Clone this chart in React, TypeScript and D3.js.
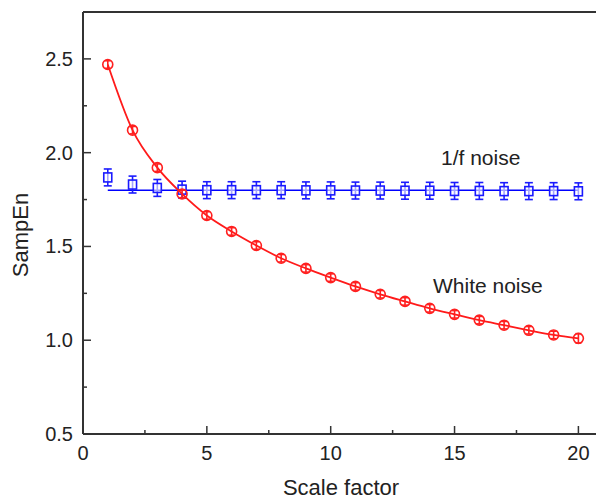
import * as d3 from 'd3';

const scales = [1, 2, 3, 4, 5, 6, 7, 8, 9, 10, 11, 12, 13, 14, 15, 16, 17, 18, 19, 20];
const whiteNoise = [2.47, 2.12, 1.92, 1.78, 1.665, 1.58, 1.505, 1.437, 1.383, 1.334, 1.287, 1.245, 1.207, 1.17, 1.138, 1.107, 1.08, 1.053, 1.028, 1.01];
const whiteErr = [0.02, 0.02, 0.02, 0.02, 0.02, 0.02, 0.02, 0.02, 0.02, 0.02, 0.02, 0.02, 0.02, 0.02, 0.02, 0.02, 0.02, 0.02, 0.02, 0.025];
const pinkNoise = [1.868, 1.83, 1.812, 1.803, 1.8, 1.8, 1.8, 1.8, 1.799, 1.799, 1.798, 1.798, 1.797, 1.797, 1.796, 1.796, 1.795, 1.795, 1.795, 1.794];
const pinkErr = [0.045, 0.045, 0.045, 0.045, 0.045, 0.045, 0.045, 0.045, 0.045, 0.045, 0.045, 0.045, 0.045, 0.045, 0.045, 0.045, 0.045, 0.045, 0.045, 0.045];
const pinkFit = 1.8;
const xTicks = [0, 5, 10, 15, 20];
const xMinor = [2.5, 7.5, 12.5, 17.5];
const yTicks = [0.5, 1.0, 1.5, 2.0, 2.5];
const yMinor = [0.75, 1.25, 1.75, 2.25];

const W = 596;
const H = 499;
const left = 83;
const top = 12;
const bottom = 434;
const font = 'Liberation Sans, Arial, sans-serif';
const axisColor = '#333';
const textColor = '#222';

export default function App() {
  const x = d3.scaleLinear().domain([0, 21]).range([left, left + 21 * 24.77]);
  const y = d3.scaleLinear().domain([0.5, 2.75]).range([bottom, top]);
  const right = x(21);

  const curve = d3
    .line<number>()
    .x((_, i) => x(scales[i]))
    .y((v) => y(v))
    .curve(d3.curveMonotoneX);

  return (
    <svg width={W} height={H} style={{ position: 'absolute', left: 0, top: 0 }}>
      <rect width={W} height={H} fill="#fff" />

      {/* frame, right side runs past the picture edge */}
      <line x1={left} x2={right} y1={top} y2={top} stroke={axisColor} strokeWidth={2} />
      <line x1={left} x2={left} y1={top} y2={bottom} stroke={axisColor} strokeWidth={2} />
      <line x1={left} x2={right} y1={bottom} y2={bottom} stroke={axisColor} strokeWidth={2} />

      {xTicks.map((t) => (
        <g key={`xt${t}`}>
          <line x1={x(t)} x2={x(t)} y1={bottom} y2={bottom - 8} stroke={axisColor} strokeWidth={1.5} />
          <text x={x(t)} y={460} textAnchor="middle" fontFamily={font} fontSize={20} fill={textColor}>
            {t}
          </text>
        </g>
      ))}
      {xMinor.map((t) => (
        <line key={`xm${t}`} x1={x(t)} x2={x(t)} y1={bottom} y2={bottom - 4} stroke={axisColor} strokeWidth={1.5} />
      ))}
      {yTicks.map((t) => (
        <g key={`yt${t}`}>
          <line x1={left} x2={left + 8} y1={y(t)} y2={y(t)} stroke={axisColor} strokeWidth={1.5} />
          <text x={73} y={y(t) + 7} textAnchor="end" fontFamily={font} fontSize={20} fill={textColor}>
            {t.toFixed(1)}
          </text>
        </g>
      ))}
      {yMinor.map((t) => (
        <line key={`ym${t}`} x1={left} x2={left + 4} y1={y(t)} y2={y(t)} stroke={axisColor} strokeWidth={1.5} />
      ))}

      <text x={341} y={495} textAnchor="middle" fontFamily={font} fontSize={22} fill={textColor}>
        Scale factor
      </text>
      <text
        transform="translate(28,235) rotate(-90)"
        textAnchor="middle"
        fontFamily={font}
        fontSize={22}
        fill={textColor}
      >
        SampEn
      </text>

      {/* 1/f noise */}
      <line x1={x(1)} x2={x(20)} y1={y(pinkFit)} y2={y(pinkFit)} stroke="#0000ff" strokeWidth={1.6} />
      {pinkNoise.map((v, i) => {
        const cx = x(scales[i]);
        const y0 = y(v - pinkErr[i]);
        const y1 = y(v + pinkErr[i]);
        return (
          <g key={`p${i}`} stroke="#1a1aff" fill="none" strokeWidth={1.6}>
            <line x1={cx} x2={cx} y1={y0} y2={y1} />
            <line x1={cx - 4} x2={cx + 4} y1={y0} y2={y0} />
            <line x1={cx - 4} x2={cx + 4} y1={y1} y2={y1} />
            <rect x={cx - 4} y={y(v) - 4.5} width={8} height={9} fill="#fff" fillOpacity={0.6} />
          </g>
        );
      })}

      {/* white noise */}
      <path d={curve(whiteNoise) || ''} fill="none" stroke="#ff1a1a" strokeWidth={1.8} />
      {whiteNoise.map((v, i) => {
        const cx = x(scales[i]);
        const y0 = y(v - whiteErr[i]);
        const y1 = y(v + whiteErr[i]);
        return (
          <g key={`w${i}`} stroke="#ff2020" fill="none" strokeWidth={1.6}>
            <line x1={cx} x2={cx} y1={y0} y2={y1} />
            <line x1={cx - 3} x2={cx + 3} y1={y0} y2={y0} />
            <line x1={cx - 3} x2={cx + 3} y1={y1} y2={y1} />
            <circle cx={cx} cy={y(v)} r={5} />
          </g>
        );
      })}

      <text x={441} y={165} fontFamily={font} fontSize={21} fill={textColor}>
        1/f noise
      </text>
      <text x={433} y={293} fontFamily={font} fontSize={21} fill={textColor}>
        White noise
      </text>
    </svg>
  );
}
